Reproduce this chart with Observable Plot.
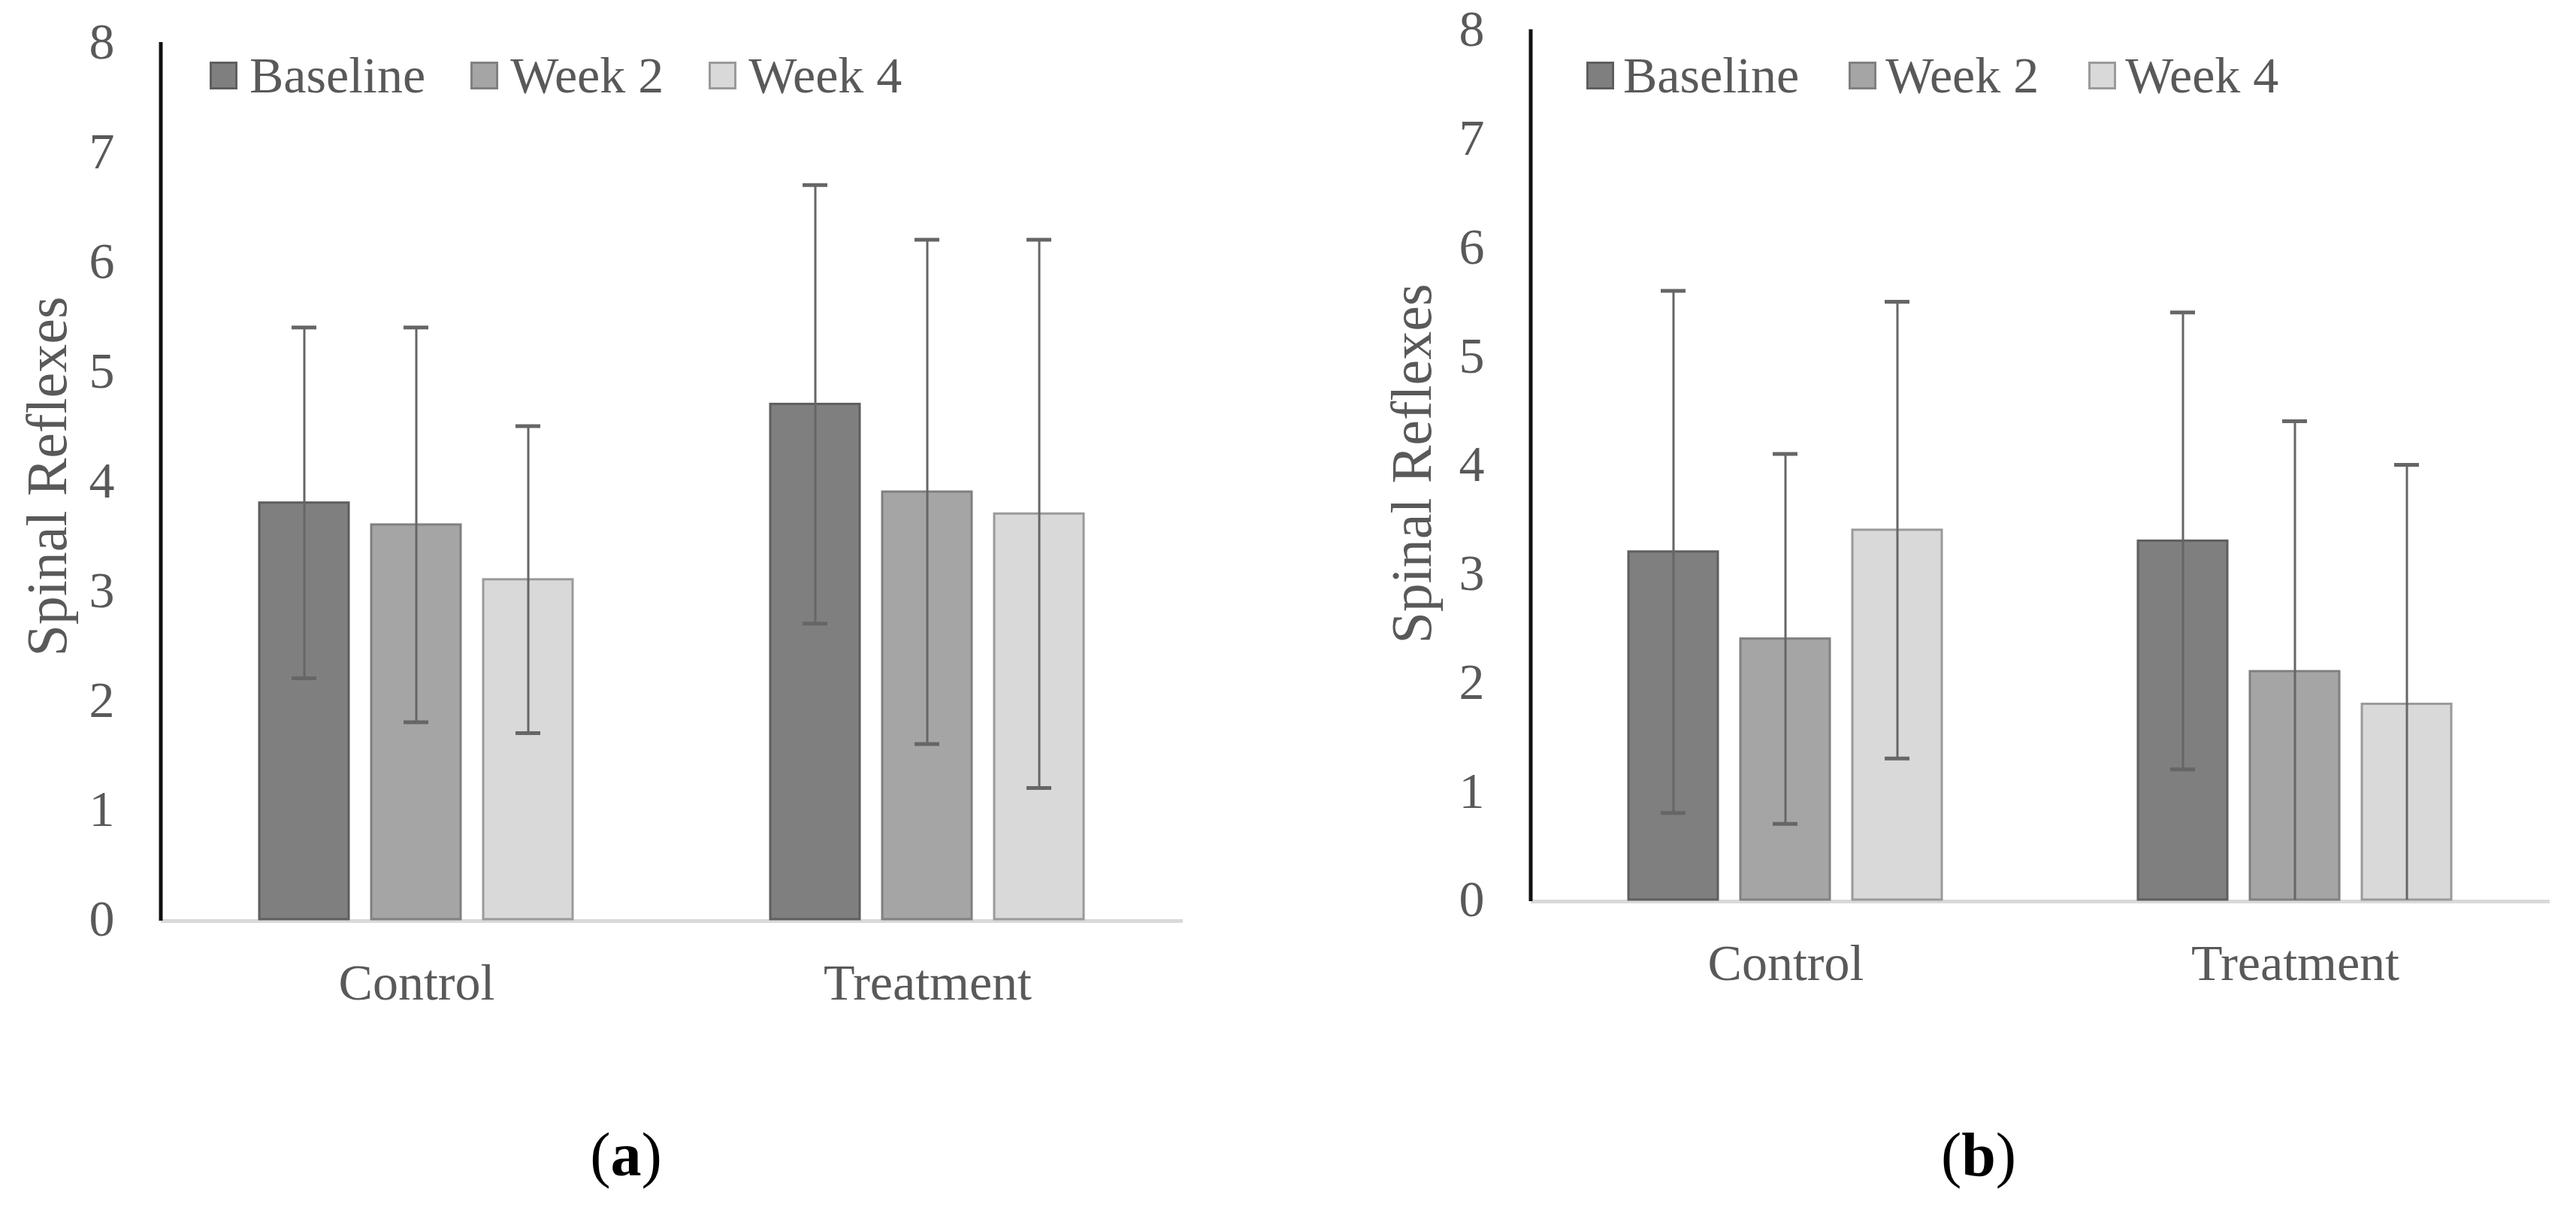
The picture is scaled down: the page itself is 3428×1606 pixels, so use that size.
<!DOCTYPE html>
<html>
<head>
<meta charset="utf-8">
<script src="https://cdn.jsdelivr.net/npm/d3@7"></script>
<script src="https://cdn.jsdelivr.net/npm/@observablehq/plot@0.6"></script>
<style>
  html, body { margin: 0; padding: 0; background: #fff; }
  #root { position: relative; width: 3428px; height: 1606px; overflow: hidden; font-family: "Liberation Serif", "Times New Roman", serif; }
  .panel { position: absolute; top: 0; }
  .ytitle { position: absolute; font-size: 76px; color: #595959; white-space: nowrap; transform: translate(-50%, -50%) rotate(-90deg); line-height: 1; }
  .legend { position: absolute; display: flex; align-items: center; font-size: 68px; color: #595959; line-height: 1; }
  .legend .item { display: flex; align-items: center; }
  .legend .sw { width: 31px; height: 31px; border-width: 3px; border-style: solid; box-sizing: content-box; }
  .caption { position: absolute; font-size: 82px; font-weight: bold; color: #000; transform: translate(-50%, -50%); line-height: 1; }
  .caption .p { font-weight: normal; }
</style>
</head>
<body>
<div id="root"></div>
<script>
// ---- data ----
const groups = ["Control", "Treatment"];
const series = ["Baseline", "Week 2", "Week 4"];
const yTicks = [0, 1, 2, 3, 4, 5, 6, 7, 8];
const yTitle = "Spinal Reflexes";

// panel (a)
const aMeans = [[3.8, 3.6, 3.1], [4.7, 3.9, 3.7]];
const aLow   = [[2.2, 1.8, 1.7], [2.7, 1.6, 1.2]];
const aHigh  = [[5.4, 5.4, 4.5], [6.7, 6.2, 6.2]];

// panel (b)
const bMeans = [[3.2, 2.4, 3.4], [3.3, 2.1, 1.8]];
const bLow   = [[0.8, 0.7, 1.3], [1.2, 0.0, 0.0]];
const bHigh  = [[5.6, 4.1, 5.5], [5.4, 4.4, 4.0]];

const fills   = ["#7f7f7f", "#a5a5a5", "#d9d9d9"];
const strokes = ["#5e5e5e", "#808080", "#9a9a9a"];

function toRows(means, low, high) {
  const rows = [];
  groups.forEach((g, gi) => series.forEach((s, si) => {
    rows.push({group: g, series: s, value: means[gi][si], lo: low[gi][si], hi: high[gi][si]});
  }));
  return rows;
}

const root = document.getElementById("root");

function panel(rows, cfg) {
  const chart = Plot.plot({
    width: cfg.width,
    height: cfg.height,
    marginLeft: cfg.marginLeft,
    marginRight: cfg.marginRight,
    marginTop: cfg.marginTop,
    marginBottom: cfg.marginBottom,
    style: {fontFamily: "Liberation Serif, Times New Roman, serif", background: "white", overflow: "visible"},
    fx: {domain: groups, padding: 0},
    x: {domain: series, paddingInner: 0.2, paddingOuter: 0.8667, axis: null},
    y: {domain: [0, 8]},
    color: {domain: series, range: fills},
    marks: [
      Plot.ruleY([0], {stroke: "#d9d9d9", strokeWidth: 5, dy: 2}),
      Plot.barY(rows, {fx: "group", x: "series", y: "value", fill: "series",
        stroke: d => strokes[series.indexOf(d.series)], strokeWidth: 3, inset: 0}),
      Plot.ruleX(rows, {fx: "group", x: "series", y1: "lo", y2: "hi", stroke: "#666666", strokeWidth: 3}),
      Plot.tickY(rows, {fx: "group", x: "series", y: "hi", stroke: "#666666", strokeWidth: 5, insetLeft: 43, insetRight: 43}),
      Plot.tickY(rows.filter(d => d.lo > 0), {fx: "group", x: "series", y: "lo", stroke: "#666666", strokeWidth: 5, insetLeft: 43, insetRight: 43}),
      Plot.axisY({ticks: yTicks, tickSize: 0, tickPadding: 62, fontSize: 68, fill: "#595959", label: null, tickFormat: d => String(d)}),
      Plot.axisFx({anchor: "bottom", tickSize: 0, tickPadding: cfg.fxPad, fontSize: 68, fill: "#595959", label: null})
    ]
  });
  // vertical value axis line drawn at the left edge of the first facet, using Plot's scales
  const fx = chart.scale("fx");
  const y = chart.scale("y");
  const x0 = fx.apply(groups[0]);
  d3.select(chart).append("line")
    .attr("x1", x0).attr("x2", x0)
    .attr("y1", y.apply(8)).attr("y2", y.apply(0) + 2)
    .attr("stroke", "#111").attr("stroke-width", 5);
  const wrap = document.createElement("div");
  wrap.className = "panel";
  wrap.style.left = cfg.left + "px";
  wrap.appendChild(chart);
  root.appendChild(wrap);
}

panel(toRows(aMeans, aLow, aHigh), {left: 0, width: 1714, height: 1400, marginLeft: 214, marginRight: 140, marginTop: 56, marginBottom: 177, fxPad: 58});
panel(toRows(bMeans, bLow, bHigh), {left: 1714, width: 1714, height: 1400, marginLeft: 322, marginRight: 35, marginTop: 39, marginBottom: 203, fxPad: 58});

// axis titles
function addTitle(x, yv) {
  const d = document.createElement("div");
  d.className = "ytitle";
  d.style.left = x + "px"; d.style.top = yv + "px";
  d.textContent = yTitle;
  root.appendChild(d);
}
addTitle(62, 634);
addTitle(1878, 617);

// legends
function addLegend(left, top, swGap, itemGap) {
  const lg = document.createElement("div");
  lg.className = "legend";
  lg.style.left = left + "px"; lg.style.top = top + "px";
  series.forEach((s, i) => {
    const it = document.createElement("div");
    it.className = "item";
    if (i > 0) it.style.marginLeft = itemGap + "px";
    const sw = document.createElement("div");
    sw.className = "sw";
    sw.style.background = fills[i];
    sw.style.borderColor = strokes[i];
    sw.style.marginRight = swGap + "px";
    const t = document.createElement("span");
    t.textContent = s;
    it.appendChild(sw); it.appendChild(t);
    lg.appendChild(it);
  });
  root.appendChild(lg);
  lg.style.top = (top - lg.offsetHeight / 2) + "px";
}
addLegend(279, 100, 16, 60);
addLegend(2111, 100, 12, 66);

// captions
function addCaption(x, yv, letter) {
  const d = document.createElement("div");
  d.className = "caption";
  d.style.left = x + "px"; d.style.top = yv + "px";
  d.innerHTML = '<span class="p">(</span>' + letter + '<span class="p">)</span>';
  root.appendChild(d);
}
addCaption(833, 1537, "a");
addCaption(2633, 1537, "b");
</script>
</body>
</html>
